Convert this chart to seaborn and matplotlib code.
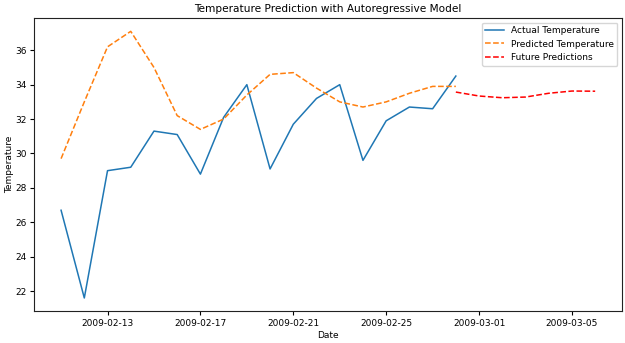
import matplotlib
matplotlib.use("Agg")
import matplotlib.pyplot as plt
import matplotlib.dates as mdates
import numpy as np
import pandas as pd
import seaborn as sns

# Observed daily temperatures
actual_dates = pd.date_range("2009-02-11", "2009-02-28", freq="D")
actual_temp = [26.7, 21.6, 29.0, 29.2, 31.3, 31.1, 28.8, 32.1, 34.0, 29.1,
               31.7, 33.2, 34.0, 29.6, 31.9, 32.7, 32.6, 34.5]

# In-sample predictions from the autoregressive model
predicted_temp = [29.7, 33.0, 36.2, 37.1, 35.0, 32.2, 31.4, 32.0, 33.4, 34.6,
                  34.7, 33.8, 33.0, 32.7, 33.0, 33.5, 33.9, 33.9]

# Out-of-sample forecast
future_dates = pd.date_range("2009-02-28", "2009-03-06", freq="D")
future_temp = [33.57, 33.34, 33.24, 33.28, 33.50, 33.63, 33.62]

hist = pd.DataFrame({"Date": actual_dates, "Actual": actual_temp,
                     "Predicted": predicted_temp})
fut = pd.DataFrame({"Date": future_dates, "Future": future_temp})

plt.rcParams.update({"font.family": ["DejaVu Sans"], "font.size": 6.5})

fig, ax = plt.subplots(figsize=(6.25, 3.43), dpi=100)
sns.lineplot(data=hist, x="Date", y="Actual", ax=ax, color="#1f77b4",
             linewidth=1.1, label="Actual Temperature")
sns.lineplot(data=hist, x="Date", y="Predicted", ax=ax, color="#ff7f0e",
             linewidth=1.1, linestyle="--", label="Predicted Temperature")
sns.lineplot(data=fut, x="Date", y="Future", ax=ax, color="red",
             linewidth=1.1, linestyle="--", label="Future Predictions")

ax.set_title("Temperature Prediction with Autoregressive Model", fontsize=7.6,
             pad=4)
ax.set_xlabel("Date", fontsize=6.5, labelpad=2)
ax.set_ylabel("Temperature", fontsize=6.5, labelpad=1)
ax.set_yticks(np.arange(22, 37, 2))
ax.set_xticks(pd.date_range("2009-02-13", "2009-03-05", freq="4D"))
ax.xaxis.set_major_formatter(mdates.DateFormatter("%Y-%m-%d"))
ax.tick_params(labelsize=6.5, length=3, pad=2.5)
for s in ax.spines.values():
    s.set_color("#222222")
    s.set_linewidth(0.8)
ax.legend(loc="upper right", fontsize=6.5, framealpha=0.8)

fig.subplots_adjust(left=0.055, right=0.995, top=0.9475, bottom=0.0924)
fig.savefig("out.png", dpi=100)
